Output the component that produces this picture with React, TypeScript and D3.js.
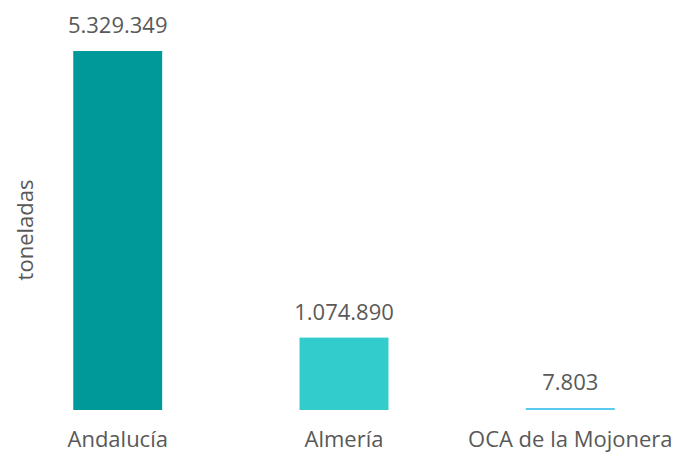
import { useRef, useEffect } from "react";
import * as d3 from "d3";

const categories = ["Andalucía", "Almería", "OCA de la Mojonera"];
const values = [5329349, 1074890, 7803];
const colors = ["#009999", "#33CCCC", "#5BC8F0"];
const yTitle = "toneladas";

const fmt = (v: number) => d3.format(",")(v).replace(/,/g, ".");

export default function App() {
  const svgRef = useRef<SVGSVGElement>(null);

  useEffect(() => {
    if (!svgRef.current) return;
    const height = 453;
    const margin = { top: 51, bottom: 43 };

    const svg = d3.select(svgRef.current);
    svg.selectAll("*").remove();

    const x = d3
      .scaleBand()
      .domain(categories)
      .range([28, 660])
      .paddingInner(0.607)
      .paddingOuter(0.2);

    const y = d3
      .scaleLinear()
      .domain([0, d3.max(values) || 1])
      .range([height - margin.bottom, margin.top]);

    const data = categories.map((c, i) => ({ c, v: values[i], color: colors[i] }));

    // bars (tiny values still show as a thin line)
    svg
      .selectAll(".bar")
      .data(data)
      .enter()
      .append("rect")
      .attr("x", (d) => x(d.c) || 0)
      .attr("width", x.bandwidth())
      .attr("y", (d) => Math.min(y(d.v), y(0) - 2))
      .attr("height", (d) => Math.max(y(0) - y(d.v), 2))
      .attr("fill", (d) => d.color);

    const font = "'Open Sans', sans-serif";

    // value labels
    svg
      .selectAll(".val")
      .data(data)
      .enter()
      .append("text")
      .attr("x", (d) => (x(d.c) || 0) + x.bandwidth() / 2)
      .attr("y", (d) => Math.min(y(d.v), y(0) - 2) - 18)
      .attr("text-anchor", "middle")
      .attr("fill", "#595959")
      .attr("font-family", font)
      .attr("font-size", 22)
      .text((d) => fmt(d.v));

    // category labels
    svg
      .selectAll(".cat")
      .data(data)
      .enter()
      .append("text")
      .attr("x", (d) => (x(d.c) || 0) + x.bandwidth() / 2)
      .attr("y", 447)
      .attr("text-anchor", "middle")
      .attr("fill", "#595959")
      .attr("font-family", font)
      .attr("font-size", 22)
      .text((d) => d.c);

    // y axis title
    svg
      .append("text")
      .attr("transform", `translate(33, 230) rotate(-90)`)
      .attr("text-anchor", "middle")
      .attr("fill", "#595959")
      .attr("font-family", font)
      .attr("font-size", 22)
      .text(yTitle);
  }, []);

  return (
    <svg
      ref={svgRef}
      width={674}
      height={453}
      style={{ position: "absolute", left: 0, top: 0, background: "#fff" }}
    />
  );
}
